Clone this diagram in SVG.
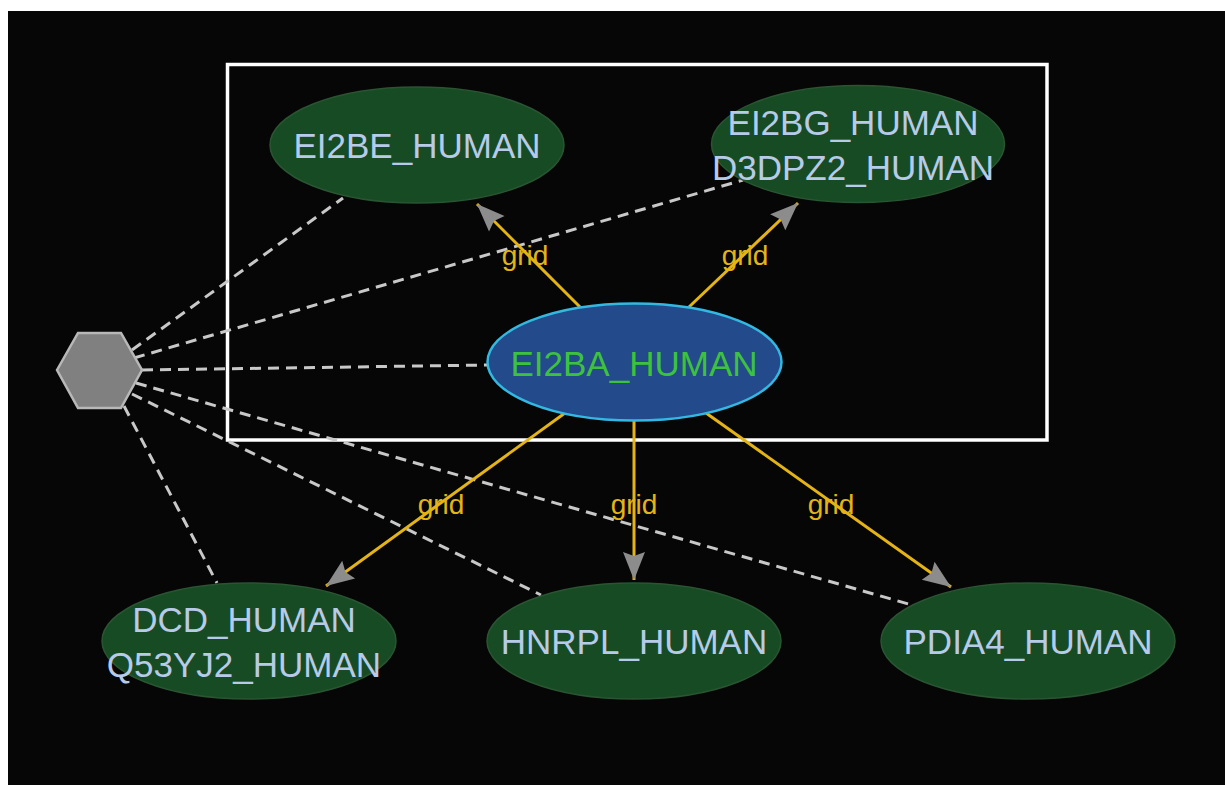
<svg xmlns="http://www.w3.org/2000/svg" width="1225" height="785" viewBox="0 0 1225 785">
<defs>
<marker id="arr" markerUnits="userSpaceOnUse" markerWidth="36" markerHeight="28" viewBox="-32 -14 36 28" refX="0" refY="0" orient="auto">
<path d="M0,0 L-28,-11 L-24,0 L-28,11 Z" fill="#8c8c8c"/>
</marker>
<style>
.bg{fill:#060606}
.frame{fill:none;stroke:#ffffff;stroke-width:3.5}
.node{fill:#174b24;stroke:#2a5532;stroke-width:1.5}
.center{fill:#234a8a;stroke:#33b8e2;stroke-width:2.5}
.lbl{font-family:"Liberation Sans",Arial,sans-serif;font-size:35px;fill:#b7cbe8;text-anchor:middle}
.clbl{font-family:"Liberation Sans",Arial,sans-serif;font-size:35px;fill:#3dc23d;text-anchor:middle}
.hex{fill:#808080;stroke:#b8b8b8;stroke-width:2.5}
.grid{stroke:#e4b416;stroke-width:3;fill:none;marker-end:url(#arr)}
.dash{stroke:#c8c8c8;stroke-width:3;stroke-dasharray:11 7;fill:none}
.elbl{font-family:"Liberation Sans",Arial,sans-serif;font-size:28px;fill:#e4b416;text-anchor:middle}
</style>
</defs>
<rect x="0" y="0" width="1225" height="785" fill="#ffffff"/>
<rect class="bg" x="8" y="11" width="1217" height="774"/>
<rect class="frame" x="227.5" y="64.5" width="819.5" height="375.5"/>
<g id="connectors">
<line class="dash" x1="132" y1="350" x2="343" y2="198"/>
<line class="dash" x1="134" y1="358" x2="743" y2="180"/>
<line class="dash" x1="142" y1="370" x2="488" y2="365"/>
<line class="dash" x1="124" y1="406" x2="217" y2="583"/>
<line class="dash" x1="132" y1="394" x2="541" y2="595"/>
<line class="dash" x1="136" y1="383" x2="912" y2="605"/>
<line class="grid" x1="580" y1="307" x2="477" y2="204"/>
<line class="grid" x1="689" y1="307" x2="798" y2="203"/>
<line class="grid" x1="565" y1="413" x2="326" y2="586"/>
<line class="grid" x1="634" y1="421" x2="634" y2="580"/>
<line class="grid" x1="706" y1="413" x2="951" y2="587"/>
<text class="elbl" x="525" y="265">grid</text>
<text class="elbl" x="745" y="265">grid</text>
<text class="elbl" x="441" y="514">grid</text>
<text class="elbl" x="634" y="514">grid</text>
<text class="elbl" x="831" y="514">grid</text>
</g>
<g id="hub">
<polygon class="hex" points="57,370 78,333 121,333 142,370 121,408 78,408"/>
</g>
<g id="EI2BA_HUMAN">
<ellipse class="center" cx="634.5" cy="362" rx="147" ry="58.5"/>
<text class="clbl" x="634" y="376">EI2BA_HUMAN</text>
</g>
<g id="EI2BE_HUMAN">
<ellipse class="node" cx="417" cy="145" rx="147" ry="58"/>
<text class="lbl" x="417" y="158">EI2BE_HUMAN</text>
</g>
<g id="EI2BG_HUMAN">
<ellipse class="node" cx="858" cy="144" rx="146.5" ry="58.5"/>
<text class="lbl" x="853" y="135">EI2BG_HUMAN</text>
<text class="lbl" x="853" y="180">D3DPZ2_HUMAN</text>
</g>
<g id="DCD_HUMAN">
<ellipse class="node" cx="249" cy="641" rx="147" ry="58"/>
<text class="lbl" x="244" y="632">DCD_HUMAN</text>
<text class="lbl" x="244" y="677">Q53YJ2_HUMAN</text>
</g>
<g id="HNRPL_HUMAN">
<ellipse class="node" cx="634" cy="641" rx="147" ry="58"/>
<text class="lbl" x="634" y="654">HNRPL_HUMAN</text>
</g>
<g id="PDIA4_HUMAN">
<ellipse class="node" cx="1028" cy="641" rx="147" ry="58"/>
<text class="lbl" x="1028" y="654">PDIA4_HUMAN</text>
</g>
</svg>
